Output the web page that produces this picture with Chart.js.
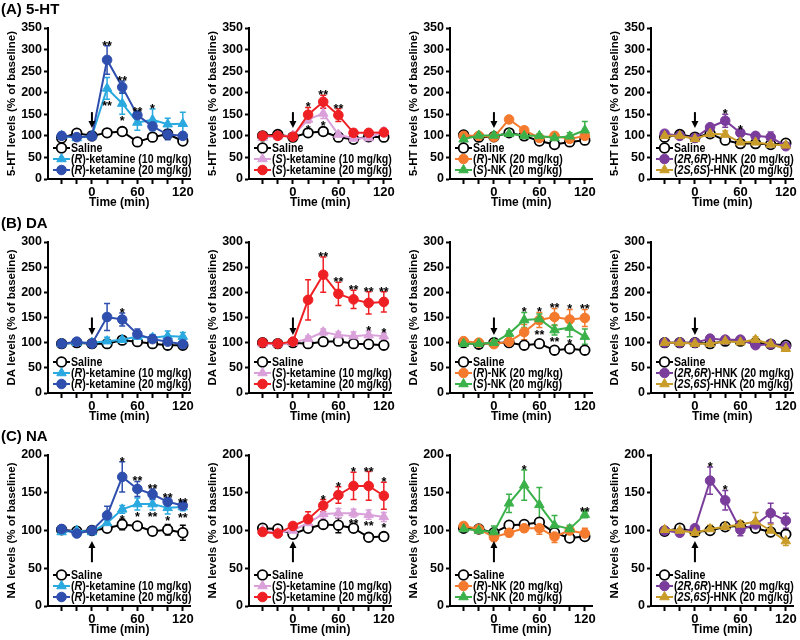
<!DOCTYPE html>
<html>
<head>
<meta charset="utf-8">
<script src="https://cdn.jsdelivr.net/npm/chart.js@4.4.1/dist/chart.umd.min.js"></script>
<style>
  body { margin: 0; background: #fff; }
  #wrap { position: relative; width: 800px; height: 640px; overflow: hidden; }
  .cell { position: absolute; width: 197px; height: 213px; }
  .head { position: absolute; left: 1px; font: bold 15px 'Liberation Sans', Arial, sans-serif; color: #000; z-index: 2; }
</style>
</head>
<body>
<div id="wrap">
  <div class="head" style="top:0px">(A) 5-HT</div>
  <div class="head" style="top:214px">(B) DA</div>
  <div class="head" style="top:427px">(C) NA</div>
</div>
<script>
// sampling times (min)
const times = [-40, -20, 0, 20, 40, 60, 80, 100, 120];
const xTicks = [-40, -20, 0, 20, 40, 60, 80, 100, 120];
const xLabels = [0, 60, 120];

// (A) 5-HT
const A1_saline = [95, 106, 100, 107, 110, 86, 97, 104, 88];
const A1_saline_sem = [5, 4, 4, 5, 7, 4, 5, 10, 4];
const A1_r10 = [100, 95, 100, 210, 175, 131, 137, 127, 128];
const A1_r10_sem = [6, 5, 4, 25, 25, 18, 25, 14, 27];
const A1_r20 = [100, 97, 99, 276, 213, 148, 122, 103, 100];
const A1_r20_sem = [8, 6, 4, 33, 14, 8, 8, 12, 8];

const A2_saline = [100, 103, 97, 107, 110, 97, 92, 98, 97];
const A2_saline_sem = [4, 4, 4, 6, 5, 5, 4, 4, 5];
const A2_s10 = [96, 99, 101, 138, 152, 103, 94, 95, 110];
const A2_s10_sem = [5, 4, 4, 8, 12, 6, 5, 8, 8];
const A2_s20 = [100, 100, 98, 149, 179, 148, 107, 107, 108];
const A2_s20_sem = [5, 4, 4, 17, 15, 15, 8, 7, 7];

const A3_saline = [102, 97, 98, 107, 100, 88, 80, 86, 90];
const A3_saline_sem = [4, 4, 4, 5, 4, 4, 4, 4, 4];
const A3_rnk = [100, 100, 97, 138, 113, 95, 100, 93, 100];
const A3_rnk_sem = [4, 4, 4, 8, 8, 5, 5, 5, 6];
const A3_snk = [92, 101, 101, 105, 100, 100, 95, 99, 113];
const A3_snk_sem = [4, 4, 4, 5, 5, 5, 5, 8, 20];

const A4_saline = [97, 103, 97, 105, 90, 82, 82, 80, 83];
const A4_saline_sem = [4, 4, 4, 4, 4, 4, 4, 4, 4];
const A4_r = [105, 100, 95, 120, 135, 107, 100, 97, 76];
const A4_r_sem = [6, 5, 5, 6, 15, 6, 5, 12, 6];
const A4_s = [100, 100, 93, 105, 103, 85, 85, 80, 78];
const A4_s_sem = [5, 5, 5, 6, 8, 5, 5, 5, 5];

// (B) DA
const B1_saline = [98, 100, 98, 98, 105, 102, 98, 95, 95];
const B1_saline_sem = [3, 3, 3, 3, 4, 4, 4, 4, 5];
const B1_r10 = [98, 100, 100, 103, 106, 112, 110, 113, 112];
const B1_r10_sem = [3, 3, 3, 8, 4, 6, 6, 10, 8];
const B1_r20 = [98, 102, 98, 151, 146, 117, 107, 102, 97];
const B1_r20_sem = [3, 4, 3, 27, 13, 10, 8, 6, 5];

const B2_saline = [100, 98, 100, 98, 102, 103, 98, 97, 95];
const B2_saline_sem = [3, 3, 3, 4, 7, 4, 4, 3, 3];
const B2_s10 = [98, 97, 100, 108, 121, 115, 113, 115, 113];
const B2_s10_sem = [3, 3, 3, 5, 6, 6, 8, 8, 6];
const B2_s20 = [100, 98, 102, 185, 235, 197, 186, 179, 181];
const B2_s20_sem = [4, 3, 4, 40, 35, 23, 18, 22, 20];

const B3_saline = [100, 97, 100, 100, 95, 98, 85, 88, 85];
const B3_saline_sem = [3, 3, 3, 3, 3, 3, 3, 3, 3];
const B3_rnk = [103, 100, 97, 102, 121, 145, 151, 146, 149];
const B3_rnk_sem = [3, 3, 3, 4, 15, 15, 17, 20, 17];
const B3_snk = [98, 98, 100, 118, 145, 147, 125, 130, 112];
const B3_snk_sem = [3, 3, 3, 5, 15, 10, 10, 18, 15];

const B4_saline = [100, 100, 100, 98, 103, 103, 100, 97, 95];
const B4_saline_sem = [3, 3, 3, 3, 3, 3, 3, 3, 3];
const B4_r = [100, 100, 100, 108, 106, 106, 95, 97, 92];
const B4_r_sem = [3, 3, 3, 4, 4, 4, 5, 4, 5];
const B4_s = [100, 100, 98, 98, 103, 101, 106, 97, 88];
const B4_s_sem = [3, 3, 3, 4, 5, 4, 6, 4, 5];

// (C) NA
const C1_saline = [101, 99, 100, 103, 108, 106, 99, 101, 97];
const C1_saline_sem = [3, 3, 3, 4, 7, 4, 5, 7, 10];
const C1_r10 = [98, 100, 98, 110, 128, 135, 135, 130, 131];
const C1_r10_sem = [3, 3, 3, 4, 5, 8, 8, 8, 5];
const C1_r20 = [102, 96, 100, 120, 171, 155, 148, 138, 133];
const C1_r20_sem = [3, 3, 3, 12, 20, 10, 7, 5, 4];

const C2_saline = [103, 102, 95, 103, 108, 107, 103, 91, 92];
const C2_saline_sem = [3, 3, 3, 4, 3, 10, 4, 3, 3];
const C2_s10 = [100, 97, 100, 110, 122, 123, 123, 121, 118];
const C2_s10_sem = [3, 3, 3, 4, 6, 6, 5, 6, 6];
const C2_s20 = [98, 96, 106, 115, 133, 147, 159, 159, 146];
const C2_s20_sem = [3, 3, 3, 10, 8, 11, 18, 19, 18];

const C3_saline = [103, 102, 97, 107, 108, 111, 97, 90, 92];
const C3_saline_sem = [3, 3, 3, 5, 3, 4, 4, 3, 3];
const C3_rnk = [106, 102, 91, 97, 103, 103, 92, 100, 96];
const C3_rnk_sem = [3, 3, 5, 5, 5, 8, 8, 5, 7];
const C3_snk = [102, 100, 98, 136, 160, 134, 107, 102, 121];
const C3_snk_sem = [3, 3, 8, 12, 20, 23, 13, 5, 4];

const C4_saline = [99, 103, 98, 100, 105, 106, 103, 98, 95];
const C4_saline_sem = [3, 3, 3, 3, 3, 3, 3, 3, 3];
const C4_r = [100, 97, 103, 166, 140, 101, 108, 123, 113];
const C4_r_sem = [3, 3, 3, 18, 13, 8, 5, 13, 10];
const C4_s = [101, 100, 97, 102, 105, 108, 112, 100, 86];
const C4_s_sem = [3, 3, 3, 5, 4, 5, 12, 8, 6];

// significance marks: [series, time index, text, up/down]
const A1_stars = [[2, 3, '**', 'up'], [2, 4, '**', 'up'], [2, 5, '**', 'up'], [1, 3, '**', 'down'], [1, 4, '*', 'down'], [1, 6, '*', 'up']];
const A2_stars = [[2, 3, '*', 'up'], [2, 4, '**', 'up'], [2, 5, '**', 'up'], [1, 3, '*', 'down'], [1, 4, '*', 'down']];
const A3_stars = [];
const A4_stars = [[1, 4, '*', 'up'], [1, 5, '*', 'up']];
const B1_stars = [[2, 4, '*', 'up']];
const B2_stars = [[2, 4, '**', 'up'], [2, 5, '**', 'up'], [2, 6, '**', 'up'], [2, 7, '**', 'up'], [2, 8, '**', 'up'], [1, 7, '*', 'up'], [1, 8, '*', 'up']];
const B3_stars = [[2, 4, '*', 'up'], [1, 5, '*', 'up'], [1, 6, '**', 'up'], [1, 7, '*', 'up'], [1, 8, '**', 'up'], [1, 5, '**', 'down'], [2, 6, '**', 'down'], [2, 7, '*', 'down']];
const B4_stars = [];
const C1_stars = [[2, 4, '*', 'up'], [2, 5, '**', 'up'], [2, 6, '**', 'up'], [2, 7, '**', 'up'], [2, 8, '**', 'up'], [1, 4, '*', 'down'], [1, 5, '*', 'down'], [1, 6, '**', 'down'], [1, 7, '*', 'down'], [1, 8, '**', 'down']];
const C2_stars = [[2, 4, '*', 'up'], [2, 5, '*', 'up'], [2, 6, '*', 'up'], [2, 7, '**', 'up'], [2, 8, '*', 'up'], [1, 6, '**', 'down'], [1, 7, '**', 'down'], [1, 8, '*', 'down']];
const C3_stars = [[2, 4, '*', 'up'], [2, 8, '**', 'up']];
const C4_stars = [[1, 3, '*', 'up'], [1, 4, '*', 'up']];

// legend labels per column (*...* = italic)
const col1Labels = ['Saline', '(*R*)-ketamine (10 mg/kg)', '(*R*)-ketamine (20 mg/kg)'];
const col2Labels = ['Saline', '(*S*)-ketamine (10 mg/kg)', '(*S*)-ketamine (20 mg/kg)'];
const col3Labels = ['Saline', '(*R*)-NK (20 mg/kg)', '(*S*)-NK (20 mg/kg)'];
const col4Labels = ['Saline', '(*2R,6R*)-HNK (20 mg/kg)', '(*2S,6S*)-HNK (20 mg/kg)'];

const rowTitles = ['5-HT levels (% of baseline)', 'DA levels (% of baseline)', 'NA levels (% of baseline)'];
const rowYMax = [350, 300, 200];
// injection arrow, from value -> to value
const rowArrows = [[155, 118], [150, 115], [58, 86]];

const FONT = "'Liberation Sans', Arial, sans-serif";

const saline = { color: '#000000', fill: '#ffffff', shape: 'circle' };
const colStyles = [
  [saline, { color: '#2aa9e0', fill: '#2aa9e0', shape: 'triangle' }, { color: '#2f4fae', fill: '#2f4fae', shape: 'circle' }],
  [saline, { color: '#d9a0da', fill: '#d9a0da', shape: 'triangle' }, { color: '#ee2024', fill: '#ee2024', shape: 'circle' }],
  [saline, { color: '#f47a2e', fill: '#f47a2e', shape: 'circle' }, { color: '#3bb14a', fill: '#3bb14a', shape: 'triangle' }],
  [saline, { color: '#7b3d9c', fill: '#7b3d9c', shape: 'circle' }, { color: '#c99c2a', fill: '#c99c2a', shape: 'triangle' }]
];
const colLabels = [col1Labels, col2Labels, col3Labels, col4Labels];

const panels = [
  [0, 0, [A1_saline, A1_r10, A1_r20], [A1_saline_sem, A1_r10_sem, A1_r20_sem], A1_stars],
  [0, 1, [A2_saline, A2_s10, A2_s20], [A2_saline_sem, A2_s10_sem, A2_s20_sem], A2_stars],
  [0, 2, [A3_saline, A3_rnk, A3_snk], [A3_saline_sem, A3_rnk_sem, A3_snk_sem], A3_stars],
  [0, 3, [A4_saline, A4_r, A4_s], [A4_saline_sem, A4_r_sem, A4_s_sem], A4_stars],
  [1, 0, [B1_saline, B1_r10, B1_r20], [B1_saline_sem, B1_r10_sem, B1_r20_sem], B1_stars],
  [1, 1, [B2_saline, B2_s10, B2_s20], [B2_saline_sem, B2_s10_sem, B2_s20_sem], B2_stars],
  [1, 2, [B3_saline, B3_rnk, B3_snk], [B3_saline_sem, B3_rnk_sem, B3_snk_sem], B3_stars],
  [1, 3, [B4_saline, B4_r, B4_s], [B4_saline_sem, B4_r_sem, B4_s_sem], B4_stars],
  [2, 0, [C1_saline, C1_r10, C1_r20], [C1_saline_sem, C1_r10_sem, C1_r20_sem], C1_stars],
  [2, 1, [C2_saline, C2_s10, C2_s20], [C2_saline_sem, C2_s10_sem, C2_s20_sem], C2_stars],
  [2, 2, [C3_saline, C3_rnk, C3_snk], [C3_saline_sem, C3_rnk_sem, C3_snk_sem], C3_stars],
  [2, 3, [C4_saline, C4_r, C4_s], [C4_saline_sem, C4_r_sem, C4_s_sem], C4_stars]
];

function marker(ctx, shape, x, y, r) {
  ctx.beginPath();
  if (shape === 'triangle') {
    ctx.moveTo(x, y - r);
    ctx.lineTo(x + r * Math.sin(2 * Math.PI / 3), y - r * Math.cos(2 * Math.PI / 3));
    ctx.lineTo(x + r * Math.sin(4 * Math.PI / 3), y - r * Math.cos(4 * Math.PI / 3));
    ctx.closePath();
  } else {
    ctx.arc(x, y, r, 0, Math.PI * 2);
  }
  ctx.fill();
  ctx.stroke();
}

// legend text, narrowed a little like the figure's squeezed type
function richText(ctx, text, x, y, size) {
  ctx.save();
  ctx.translate(x, y);
  ctx.scale(0.85, 1);
  let cx = 0;
  text.split('*').forEach((part, k) => {
    ctx.font = (k % 2 ? 'italic ' : '') + 'bold ' + size + 'px ' + FONT;
    ctx.fillText(part, cx, 0);
    cx += ctx.measureText(part).width;
  });
  ctx.restore();
}

const decor = {
  id: 'decor',
  beforeDatasetsDraw(chart) {
    const ctx = chart.ctx;
    ctx.save();
    chart.data.datasets.forEach((ds, di) => {
      const pts = chart.getDatasetMeta(di).data;
      const ys = chart.scales.y;
      ctx.strokeStyle = ds.borderColor;
      ctx.lineWidth = 1.5;
      ds.data.forEach((d, i) => {
        const px = pts[i].x;
        const top = ys.getPixelForValue(d.y + ds.sem[i]);
        const bot = ys.getPixelForValue(d.y - ds.sem[i]);
        ctx.beginPath();
        ctx.moveTo(px, top); ctx.lineTo(px, bot);
        ctx.moveTo(px - 3, top); ctx.lineTo(px + 3, top);
        ctx.moveTo(px - 3, bot); ctx.lineTo(px + 3, bot);
        ctx.stroke();
      });
    });
    ctx.restore();
  },
  afterDatasetsDraw(chart, args, opts) {
    const ctx = chart.ctx;
    const { x: xs, y: ys } = chart.scales;
    const area = chart.chartArea;
    ctx.save();
    // injection arrow
    const ax = xs.getPixelForValue(0);
    const y1 = ys.getPixelForValue(opts.arrow[0]);
    const y2 = ys.getPixelForValue(opts.arrow[1]);
    const dir = Math.sign(y2 - y1);
    ctx.strokeStyle = '#000';
    ctx.fillStyle = '#000';
    ctx.lineWidth = 2;
    ctx.beginPath();
    ctx.moveTo(ax, y1); ctx.lineTo(ax, y2 - dir * 5);
    ctx.stroke();
    ctx.beginPath();
    ctx.moveTo(ax, y2);
    ctx.lineTo(ax - 3.5, y2 - dir * 7);
    ctx.lineTo(ax + 3.5, y2 - dir * 7);
    ctx.closePath();
    ctx.fill();
    // significance stars
    ctx.font = 'bold 12.5px ' + FONT;
    ctx.textAlign = 'center';
    ctx.textBaseline = 'alphabetic';
    opts.stars.forEach(([s, i, t, pos]) => {
      const ds = chart.data.datasets[s];
      const v = ds.data[i].y, e = ds.sem[i];
      const px = xs.getPixelForValue(times[i]);
      if (pos === 'up') ctx.fillText(t, px, ys.getPixelForValue(v + e) + 4);
      else ctx.fillText(t, px, ys.getPixelForValue(v - e) + 11);
    });
    // legend
    const x0 = area.left + 5;
    const rows = [area.bottom - 31, area.bottom - 20, area.bottom - 9];
    chart.data.datasets.forEach((ds, di) => {
      const yy = rows[di];
      ctx.strokeStyle = ds.borderColor;
      ctx.lineWidth = 2;
      ctx.beginPath();
      ctx.moveTo(x0, yy); ctx.lineTo(x0 + 17, yy);
      ctx.stroke();
      ctx.fillStyle = ds.pointBackgroundColor;
      ctx.lineWidth = ds.pointBorderWidth;
      marker(ctx, ds.pointStyle, x0 + 8.5, yy, ds.pointRadius);
      ctx.fillStyle = '#000';
      ctx.textAlign = 'left';
      ctx.textBaseline = 'middle';
      richText(ctx, opts.labels[di], x0 + 18, yy + 0.5, 12.5);
    });
    ctx.restore();
  }
};

const wrap = document.getElementById('wrap');
panels.forEach(([row, col, series, sems, stars]) => {
  const cell = document.createElement('div');
  cell.className = 'cell';
  cell.style.left = (col * 201) + 'px';
  cell.style.top = [0, 214, 427][row] + 'px';
  const canvas = document.createElement('canvas');
  canvas.width = 197;
  canvas.height = 213;
  cell.appendChild(canvas);
  wrap.appendChild(cell);

  const styles = colStyles[col];
  const datasets = series.map((vals, k) => ({
    label: colLabels[col][k].replace(/\*/g, ''),
    data: vals.map((v, i) => ({ x: times[i], y: v })),
    sem: sems[k],
    borderColor: styles[k].color,
    backgroundColor: styles[k].fill,
    pointBackgroundColor: styles[k].fill,
    pointBorderColor: styles[k].color,
    pointStyle: styles[k].shape,
    pointRadius: styles[k].shape === 'triangle' ? 5.5 : 4.8,
    pointBorderWidth: k === 0 ? 1.8 : 1,
    borderWidth: 2,
    tension: 0,
    order: 3 - k
  }));

  const yMax = rowYMax[row];
  new Chart(canvas, {
    type: 'line',
    data: { datasets: datasets },
    plugins: [decor],
    options: {
      responsive: false,
      animation: false,
      devicePixelRatio: 1,
      layout: { padding: { top: 28, right: 5, left: 0, bottom: 0 } },
      plugins: {
        legend: { display: false },
        tooltip: { enabled: false },
        decor: { arrow: rowArrows[row], stars: stars, labels: colLabels[col] }
      },
      scales: {
        x: {
          type: 'linear',
          min: -58,
          max: 130,
          afterBuildTicks: s => { s.ticks = xTicks.map(v => ({ value: v })); },
          afterFit: s => { s.height = 34; s.paddingLeft = 0; s.paddingRight = 0; },
          grid: { drawOnChartArea: false, tickLength: 5, tickWidth: 2, tickColor: '#000' },
          border: { color: '#000', width: 2 },
          ticks: {
            padding: 1,
            maxRotation: 0,
            autoSkip: false,
            color: '#000',
            font: { family: FONT, size: 13, weight: 'bold' },
            callback: v => xLabels.includes(v) ? String(v) : ''
          },
          title: {
            display: true,
            text: 'Time (min)',
            color: '#000',
            font: { family: FONT, size: 12, weight: 'bold' },
            padding: { top: 0, bottom: 3 }
          }
        },
        y: {
          min: 0,
          max: yMax,
          afterBuildTicks: s => {
            const t = [];
            for (let v = 0; v <= yMax; v += 50) t.push({ value: v });
            s.ticks = t;
          },
          afterFit: s => { s.width = 48; s.paddingTop = 0; s.paddingBottom = 0; },
          grid: { drawOnChartArea: false, tickLength: 4, tickWidth: 2, tickColor: '#000' },
          border: { color: '#000', width: 2 },
          ticks: {
            padding: 2,
            color: '#000',
            font: { family: FONT, size: 12.5, weight: 'bold' }
          },
          title: {
            display: true,
            text: rowTitles[row],
            color: '#000',
            font: { family: FONT, size: 11.5, weight: 'bold' },
            padding: { top: 5, bottom: 0 }
          }
        }
      }
    }
  });
});
</script>
</body>
</html>
